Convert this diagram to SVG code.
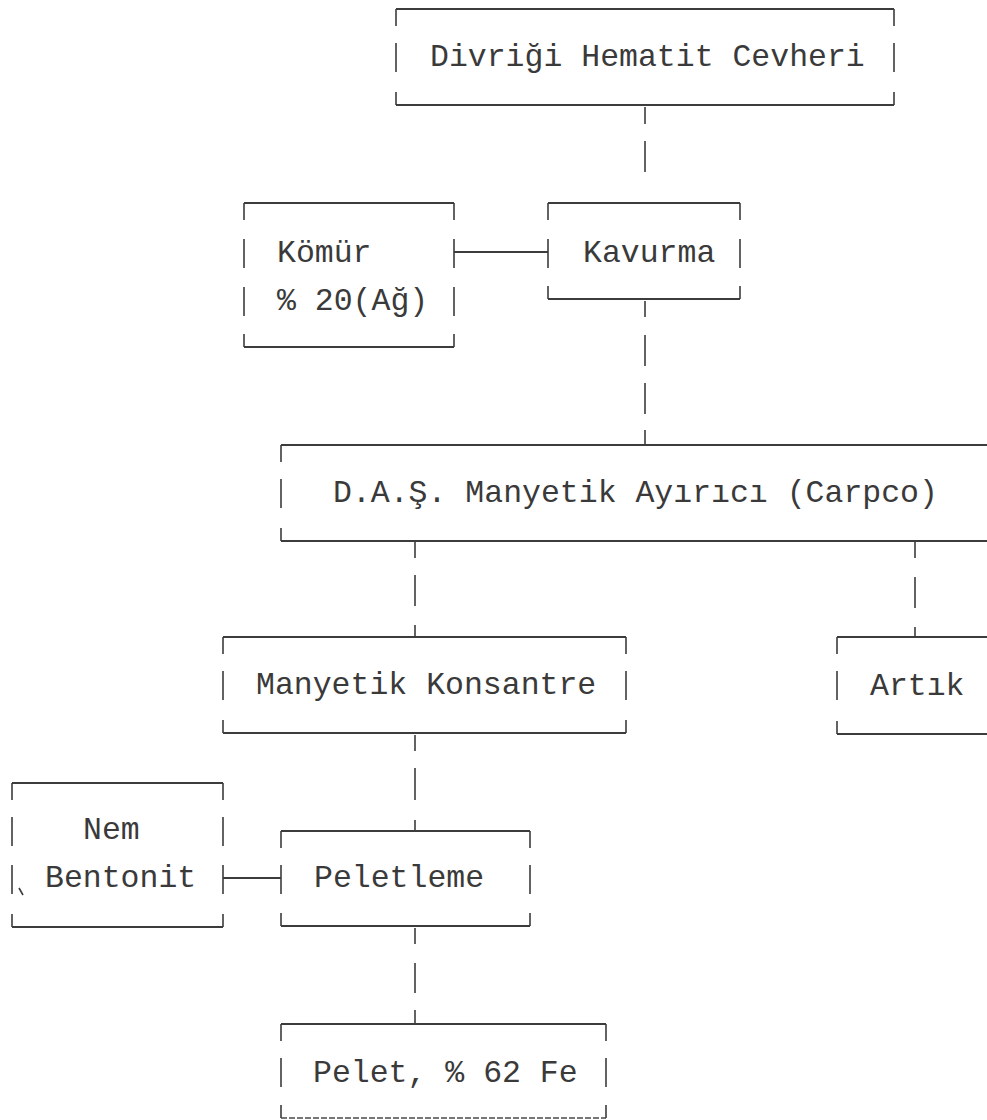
<svg xmlns="http://www.w3.org/2000/svg" width="987" height="1120" viewBox="0 0 987 1120">
<style>
.b{fill:none;stroke:#3c3c3c;stroke-width:1.6;stroke-linecap:butt}
.h{fill:none;stroke:#3c3c3c;stroke-width:2.2}
.c{fill:none;stroke:#3c3c3c;stroke-width:1.6}
.t{font-family:"Liberation Mono","DejaVu Sans Mono",monospace;font-size:31.5px;fill:#3a3a3a}
</style>
<rect width="987" height="1120" fill="#ffffff"/>
<g id="connectors">
<path class="c" d="M645 107V124M645 141V172"/>
<path class="c" d="M645 301V317M645 335V366M645 383V414M645 430V445"/>
<path class="c" d="M415 542V558M415 575V606M415 625V637"/>
<path class="c" d="M915 542V558M915 577V608M915 627V637"/>
<path class="c" d="M415 735V751M415 768V800M415 820V831"/>
<path class="c" d="M415 928V944M415 963V993M415 1010V1024"/>
<path class="h" d="M454 252H548M223 878H281"/>
</g>
<g id="divrigi">
<path class="h" d="M396 9H894M396 105H894"/>
<path class="b" d="M396 9V26M894 9V26M396 43V72M894 43V72M396 92V105M894 92V105"/>
<text class="t" x="430" y="66">Divriği Hematit Cevheri</text>
</g>
<g id="komur">
<path class="h" d="M244 203H454M244 347H454"/>
<path class="b" d="M244 203V220M454 203V220M244 239V268M454 239V268M244 287V316M454 287V316M244 334V347M454 334V347"/>
<text class="t" x="277" y="262">Kömür</text>
<text class="t" x="277" y="310">% 20(Ağ)</text>
</g>
<g id="kavurma">
<path class="h" d="M548 203H740M548 299H740"/>
<path class="b" d="M548 203V220M740 203V220M548 239V268M740 239V268M548 286V299M740 286V299"/>
<text class="t" x="583" y="262">Kavurma</text>
</g>
<g id="das">
<path class="h" d="M281 445H987M281 541H987"/>
<path class="b" d="M281 445V462M281 479V508M281 528V541"/>
<text class="t" x="333" y="502">D.A.Ş. Manyetik Ayırıcı (Carpco)</text>
</g>
<g id="manyetik">
<path class="h" d="M223 637H626M223 733H626"/>
<path class="b" d="M223 637V654M626 637V654M223 671V700M626 671V700M223 720V733M626 720V733"/>
<text class="t" x="256" y="694">Manyetik Konsantre</text>
</g>
<g id="artik">
<path class="h" d="M837 637H987M837 734H987"/>
<path class="b" d="M837 637V654M837 671V700M837 721V734"/>
<text class="t" x="870" y="695">Artık</text>
</g>
<g id="nem">
<path class="h" d="M12 783H223M12 927H223"/>
<path class="b" d="M12 783V800M223 783V800M12 817V846M223 817V846M12 865V894M223 865V894M12 914V927M223 914V927"/>
<path class="b" d="M19 888L23 895"/>
<text class="t" x="83" y="839">Nem</text>
<text class="t" x="45" y="887">Bentonit</text>
</g>
<g id="peletleme">
<path class="h" d="M281 831H530M281 926H530"/>
<path class="b" d="M281 831V848M530 831V848M281 865V894M530 865V894M281 913V926M530 913V926"/>
<text class="t" x="314" y="887">Peletleme</text>
</g>
<g id="pelet">
<path class="h" d="M281 1024H606"/>
<path class="h" d="M281 1118H606" stroke-dasharray="6 2" opacity="0.7"/>
<path class="b" d="M281 1024V1041M606 1024V1041M281 1058V1087M606 1058V1087M281 1105V1118M606 1105V1118"/>
<text class="t" x="313" y="1082">Pelet, % 62 Fe</text>
</g>
</svg>
